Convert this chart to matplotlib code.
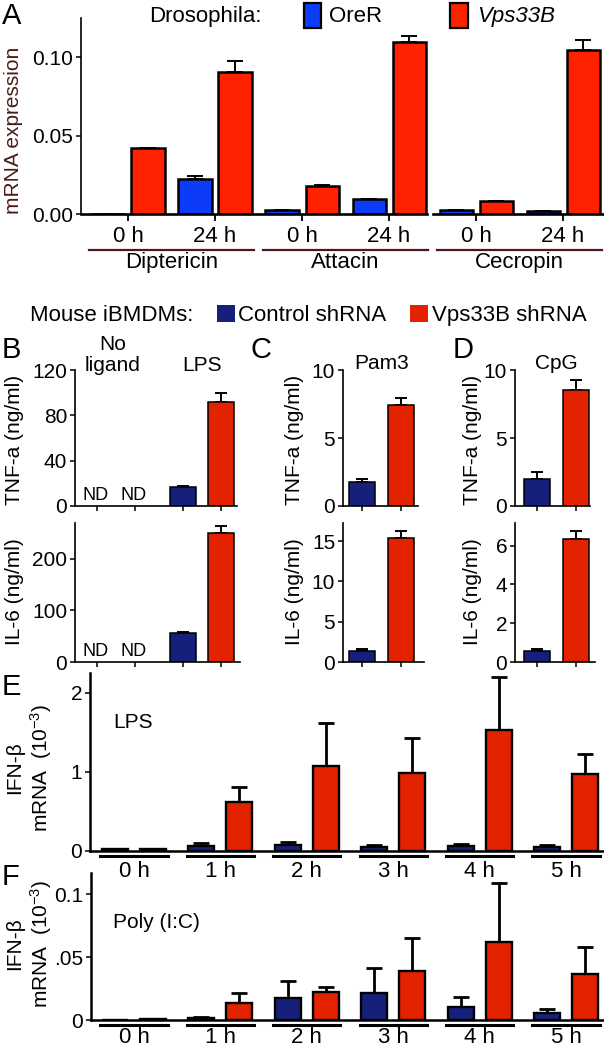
import numpy as np
import matplotlib
matplotlib.use("Agg")
import matplotlib.pyplot as plt
from matplotlib.patches import Rectangle
from matplotlib.transforms import Affine2D, blended_transform_factory

plt.rcParams['font.family'] = ['Liberation Sans', 'DejaVu Sans']
plt.rcParams['mathtext.fontset'] = 'custom'
plt.rcParams['mathtext.rm'] = 'Liberation Sans'
plt.rcParams['mathtext.default'] = 'regular'

# ---------------- data ----------------
# A: Drosophila AMP expression
fly_genes = ["Diptericin", "Attacin", "Cecropin"]
fly_times = ["0 h", "24 h"]
orer = [0.0, 0.0222, 0.0025, 0.0093, 0.0023, 0.0016]
orer_err = [0.0, 0.0020, 0.0, 0.0, 0.0, 0.0]
vps_fly = [0.0418, 0.0905, 0.0178, 0.1100, 0.0086, 0.1044]
vps_fly_err = [0.0003, 0.0070, 0.0006, 0.0037, 0.0, 0.0066]

# B: no ligand / LPS (nan = not detected)
b_groups = ["No\nligand", "LPS"]
b_tnf_ctrl = [np.nan, 16.5]
b_tnf_ctrl_err = [0, 1.5]
b_tnf_vps = [np.nan, 92.0]
b_tnf_vps_err = [0, 7.5]
b_il6_ctrl = [np.nan, 55.5]
b_il6_ctrl_err = [0, 3.5]
b_il6_vps = [np.nan, 250.0]
b_il6_vps_err = [0, 14.0]

# C: Pam3, D: CpG  -> [control, Vps33B]
c_tnf = [1.74, 7.43]
c_tnf_err = [0.25, 0.53]
c_il6 = [1.4, 15.4]
c_il6_err = [0.2, 0.85]
d_tnf = [1.99, 8.53]
d_tnf_err = [0.49, 0.73]
d_il6 = [0.55, 6.34]
d_il6_err = [0.12, 0.43]

# E / F: IFN-b time course
hours = ["0 h", "1 h", "2 h", "3 h", "4 h", "5 h"]
e_ctrl = [0.02, 0.063, 0.076, 0.055, 0.063, 0.055]
e_ctrl_err = [0.005, 0.035, 0.04, 0.02, 0.03, 0.025]
e_vps = [0.02, 0.62, 1.07, 0.98, 1.53, 0.97]
e_vps_err = [0.005, 0.19, 0.55, 0.45, 0.66, 0.25]
f_ctrl = [0.0003, 0.0015, 0.0172, 0.0217, 0.0101, 0.0053]
f_ctrl_err = [0.0, 0.0005, 0.0138, 0.0193, 0.0084, 0.0034]
f_vps = [0.0008, 0.0138, 0.0225, 0.0392, 0.0616, 0.0365]
f_vps_err = [0.0, 0.0079, 0.0040, 0.0256, 0.0474, 0.0217]

# colours
BLUE = '#0d3cf8'
RED_FLY = '#ff2200'
NAVY = '#16207a'
RED = '#e32200'
MAROON = '#4a1a1a'

W, H = 604, 1050
fig = plt.figure(figsize=(W / 100, H / 100), dpi=100)
# pixel transform: x right, y down from the top of the figure
pix = Affine2D().scale(1 / W, -1 / H).translate(0, 1) + fig.transFigure


def add_ax(l, t, r, b):
    ax = fig.add_axes([l / W, 1 - b / H, (r - l) / W, (b - t) / H])
    ax.patch.set_visible(False)
    return ax


def style(ax, lw=1.2):
    for s in ['top', 'right']:
        ax.spines[s].set_visible(False)
    for s in ['left', 'bottom']:
        ax.spines[s].set_linewidth(lw)
    ax.tick_params(direction='out', length=3.6, width=1.1, labelsize=15, pad=2)


def bars(ax, x, vals, errs, color, width, lw, capsize, elw):
    x = np.asarray(x, float)
    vals = np.asarray(vals, float)
    ok = ~np.isnan(vals)
    ax.bar(x[ok], vals[ok], width, color=color, edgecolor='black', linewidth=lw, zorder=2)
    e = np.asarray(errs, float)[ok]
    ax.errorbar(x[ok], vals[ok], yerr=[np.zeros_like(e), e], fmt='none', ecolor='black',
                elinewidth=elw, capsize=capsize, capthick=elw, zorder=1)


def ylabel(x, y, s, size=15, color='black'):
    fig.text(x, y, s, transform=pix, rotation=90, ha='center', va='center',
             fontsize=size, color=color)


def letter(x, y, s):
    fig.text(x, y, s, transform=pix, fontsize=21, ha='left', va='baseline')


# ---------------- A ----------------
axA = add_ax(81, 18, 604, 214)
style(axA)
axA.spines['bottom'].set_visible(False)
t = np.arange(len(fly_genes) * len(fly_times))
bars(axA, t - 0.23, orer, orer_err, BLUE, 0.38, 1.8, 5.5, 1.4)
bars(axA, t + 0.23, vps_fly, vps_fly_err, RED_FLY, 0.38, 1.8, 5.5, 1.4)
axA.set_xlim(-0.54, 5.47)
axA.set_ylim(0, 0.125)
axA.set_yticks([0, 0.05, 0.10])
axA.set_yticklabels(['0.00', '0.05', '0.10'])
axA.set_xticks(t)
axA.set_xticklabels(fly_times * len(fly_genes), fontsize=16)
axA.tick_params(axis='x', length=5, width=1.3, pad=4)
# broken bottom axis
brk = 3.47
axA.plot([-0.54, brk - 0.03], [0, 0], color='black', lw=1.9, clip_on=False, zorder=3)
axA.plot([brk + 0.03, 5.47], [0, 0], color='black', lw=1.9, clip_on=False, zorder=3)
trA = blended_transform_factory(axA.transData, pix)
for i, g in enumerate(fly_genes):
    c = 2 * i + 0.5
    axA.plot([c - 0.95, c + 0.95], [250, 250], color=MAROON, lw=1.6, transform=trA, clip_on=False)
    axA.text(c, 268, g, transform=trA, ha='center', va='baseline', fontsize=16)
ylabel(14, 130, 'mRNA expression', color=MAROON)
letter(2, 24, 'A')

# legend A
fig.text(149, 22, 'Drosophila:', transform=pix, fontsize=16, va='baseline')
fig.patches.append(Rectangle((304 / W, 1 - 28 / H), 17 / W, 25 / H, transform=fig.transFigure,
                             facecolor=BLUE, edgecolor='black', lw=1.6, figure=fig))
fig.text(329, 22, 'OreR', transform=pix, fontsize=16, va='baseline')
fig.patches.append(Rectangle((450 / W, 1 - 28 / H), 18 / W, 25 / H, transform=fig.transFigure,
                             facecolor=RED_FLY, edgecolor='black', lw=1.6, figure=fig))
fig.text(477, 22, 'Vps33B', transform=pix, fontsize=16, va='baseline', style='italic')

# legend mouse
fig.text(30, 321, 'Mouse iBMDMs:', transform=pix, fontsize=16, va='baseline')
fig.patches.append(Rectangle((217 / W, 1 - 322 / H), 18 / W, 17 / H, transform=fig.transFigure,
                             facecolor=NAVY, edgecolor='none', figure=fig))
fig.text(238, 321, 'Control shRNA', transform=pix, fontsize=16, va='baseline')
fig.patches.append(Rectangle((410 / W, 1 - 322 / H), 18 / W, 17 / H, transform=fig.transFigure,
                             facecolor=RED, edgecolor='none', figure=fig))
fig.text(432, 321, 'Vps33B shRNA', transform=pix, fontsize=16, va='baseline')

# ---------------- B ----------------
b_centers = np.array([0.5, 2.763])
for (t0, b0, r0), ctrl, ce, vps, ve, yl, yt, lab, ly in [
        ((370, 506, 237), b_tnf_ctrl, b_tnf_ctrl_err, b_tnf_vps, b_tnf_vps_err,
         (0, 120), [0, 40, 80, 120], 'TNF-a (ng/ml)', 440),
        ((522.7, 662, 240), b_il6_ctrl, b_il6_ctrl_err, b_il6_vps, b_il6_vps_err,
         (0, 270), [0, 100, 200], 'IL-6 (ng/ml)', 592)]:
    ax = add_ax(75, t0, r0, b0)
    style(ax)
    xs_c = b_centers - 0.5
    xs_v = b_centers + 0.5
    bars(ax, xs_c, ctrl, ce, NAVY, 0.66, 1.1, 4, 1.4)
    bars(ax, xs_v, vps, ve, RED, 0.66, 1.1, 4, 1.4)
    ax.set_xlim(-0.58, (r0 - 97) / 38)
    ax.set_ylim(*yl)
    ax.set_yticks(yt)
    ax.set_xticks(np.concatenate([xs_c, xs_v]))
    ax.set_xticklabels([])
    for xs, vv in [(xs_c, ctrl), (xs_v, vps)]:
        for x, v in zip(xs, vv):
            if np.isnan(v):
                ax.text(x - 0.05, 0.045, 'ND', transform=blended_transform_factory(ax.transData, ax.transAxes),
                        ha='center', va='baseline', fontsize=13)
    ylabel(15, ly, lab)
    if t0 == 370:
        trB = blended_transform_factory(ax.transData, pix)
        ax.text(b_centers[0] - 0.1, 371, b_groups[0], transform=trB, ha='center', va='baseline',
                fontsize=15, linespacing=1.1)
        ax.text(b_centers[1], 371, b_groups[1], transform=trB, ha='center', va='baseline', fontsize=15)
letter(2, 358, 'B')

# ---------------- C / D ----------------
for (l0, tick0, pitch, r_top, r_bot, tnf, tnf_e, il6, il6_e, il6_lim, il6_ticks,
     lig, labx, let) in [
        (343, 362.3, 39.0, 418, 424, c_tnf, c_tnf_err, c_il6, c_il6_err, (0, 17.3), [0, 5, 10, 15],
         'Pam3', 295, 'C'),
        (515, 536.7, 39.3, 590, 595, d_tnf, d_tnf_err, d_il6, d_il6_err, (0, 7.18), [0, 2, 4, 6],
         'CpG', 473, 'D')]:
    pos = np.array([0.0, 1.0])
    for (t0, b0, r0, vals, errs, yl, yt, lab, ly) in [
            (370, 506, r_top, tnf, tnf_e, (0, 10), [0, 5, 10], 'TNF-a (ng/ml)', 440),
            (522.7, 662, r_bot, il6, il6_e, il6_lim, il6_ticks, 'IL-6 (ng/ml)', 592)]:
        ax = add_ax(l0, t0, r0, b0)
        style(ax)
        bars(ax, pos[:1], vals[:1], errs[:1], NAVY, 0.67, 1.1, 4, 1.4)
        bars(ax, pos[1:], vals[1:], errs[1:], RED, 0.67, 1.1, 4, 1.4)
        ax.set_xlim((l0 - tick0) / pitch, (r0 - tick0) / pitch)
        ax.set_ylim(*yl)
        ax.set_yticks(yt)
        ax.set_xticks(pos)
        ax.set_xticklabels([])
        ylabel(labx, ly, lab)
        if t0 == 370:
            ax.text(0.5, 369, lig, transform=blended_transform_factory(ax.transData, pix),
                    ha='center', va='baseline', fontsize=15)
    letter(l0 - 93 if let == 'C' else l0 - 62, 358, let)

# ---------------- E / F ----------------
for (t0, b0, l0, ctrl, ce, vps, ve, yl, yt, ytl, uline, base, txt, txty, let, lety, ly) in [
        (672.7, 851, 90, e_ctrl, e_ctrl_err, e_vps, e_vps_err, (0, 2.25), [0, 1, 2], ['0', '1', '2'],
         856, 877, 'LPS', 728, 'E', 695, 768),
        (873.3, 1020, 90.7, f_ctrl, f_ctrl_err, f_vps, f_vps_err, (0, 0.1165), [0, 0.05, 0.1],
         ['0', '.05', '0.1'], 1025, 1043, 'Poly (I:C)', 928, 'F', 885, 944)]:
    ax = add_ax(l0, t0, 604, b0)
    style(ax, lw=1.8)
    hx = np.arange(len(hours))
    bars(ax, hx - 0.22, ctrl, ce, NAVY, 0.30, 1.7, 5.5, 2.0)
    bars(ax, hx + 0.22, vps, ve, RED, 0.30, 1.7, 5.5, 2.0)
    ax.set_xlim((l0 - 134) / 86.4, (604 - 134) / 86.4)
    ax.set_ylim(*yl)
    ax.set_yticks(yt)
    ax.set_yticklabels(ytl)
    ax.set_xticks([])
    tr = blended_transform_factory(ax.transData, pix)
    for x, h in zip(hx, hours):
        ax.plot([x - 0.39, x + 0.39], [uline, uline], color='black', lw=2.2, transform=tr, clip_on=False)
        ax.text(x, base, h, transform=tr, ha='center', va='baseline', fontsize=16)
    fig.text(113, txty, txt, transform=pix, fontsize=15, va='baseline')
    ylabel(15, ly, 'IFN-\u03b2')
    ylabel(41, ly, 'mRNA  (10$^{-3}$)')
    letter(2, lety, let)

fig.savefig('out.png', dpi=100)
